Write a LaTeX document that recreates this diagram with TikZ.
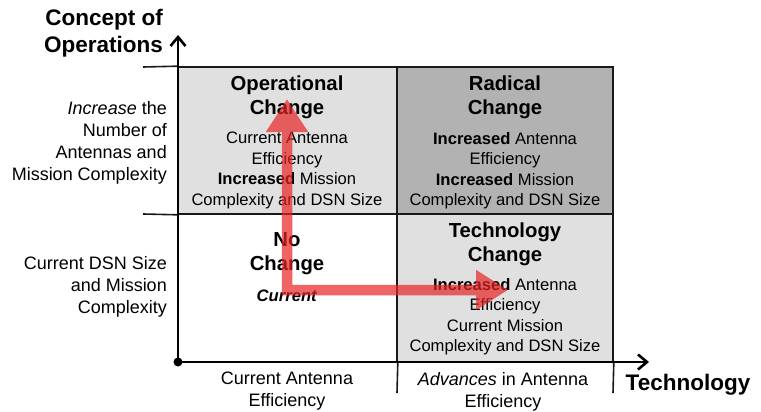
\documentclass[tikz,border=0pt]{standalone}
\usepackage{fontspec}
\setmainfont{Liberation Sans}
\usetikzlibrary{arrows.meta}
\definecolor{cellgray}{RGB}{224,224,224}
\definecolor{radgray}{RGB}{178,178,178}
\definecolor{moved}{RGB}{232,36,36}
\tikzstyle{cell}=[rectangle,draw=black!90,line width=1.6pt,inner sep=0pt]
\tikzstyle{title}=[font=\fontsize{20.3}{24}\selectfont\bfseries,align=center,inner sep=0pt]
\tikzstyle{body}=[font=\fontsize{16.6}{20.5}\selectfont,align=center,inner sep=0pt]
\tikzstyle{side}=[font=\fontsize{18}{22}\selectfont,inner sep=0pt]
\tikzstyle{axisname}=[font=\fontsize{22.5}{27}\selectfont\bfseries,inner sep=0pt]
\tikzstyle{axis}=[draw,line width=2.6pt,-{Straight Barb[length=9pt,width=15pt]}]
\tikzstyle{grid}=[draw=black!90,line width=1.6pt]
\tikzstyle{move}=[draw=moved,line width=10.5pt,line join=miter,{Triangle[width=40pt,length=33pt]}-{Triangle[width=38pt,length=32pt]}]

\begin{document}
\begin{tikzpicture}[x=1pt,y=-1pt]
        \useasboundingbox (0,0) rectangle (761,412);
        % the four cells
        \node[cell,fill=cellgray,minimum width=219pt,minimum height=147pt] (op) at (287.5,140.5) {};
        \node[cell,fill=radgray,minimum width=216pt,minimum height=147pt] (rad) at (505,140.5) {};
        \node[cell,minimum width=219pt,minimum height=148pt] (none) at (287.5,288) {};
        \node[cell,fill=cellgray,minimum width=216pt,minimum height=148pt] (tech) at (505,288) {};
        % cell texts
        \node[title] (opT) at (287,97.5) {Operational\\Change};
        \node[body] (opB) at (287,170.5) {Current Antenna\\Efficiency\\\textbf{Increased} Mission\\Complexity and DSN Size};
        \node[title] (radT) at (505,97.5) {Radical\\Change};
        \node[body] (radB) at (505,170.5) {\textbf{Increased} Antenna\\Efficiency\\\textbf{Increased} Mission\\Complexity and DSN Size};
        \node[title] (noneT) at (287,254) {No\\Change};
        \node[body] (noneB) at (287,296) {\textbf{\textit{Current}}};
        \node[title] (techT) at (505,244) {Technology\\Change};
        \node[body] (techB) at (505,316.5) {\textbf{Increased} Antenna\\Efficiency\\Current Mission\\Complexity and DSN Size};
        % side and bottom labels
        \node[side,align=right,anchor=east] (more) at (167,142.5) {\textit{Increase} the\\Number of\\Antennas and\\Mission Complexity};
        \node[side,align=right,anchor=east] (same) at (167,286.5) {Current DSN Size\\and Mission\\Complexity};
        \node[side,align=center] (cureff) at (287,391) {Current Antenna\\Efficiency};
        \node[side,align=center] (adveff) at (503,392) {\textit{Advances} in Antenna\\Efficiency};
        \node[axisname,align=right,anchor=east] (conops) at (163,33.5) {Concept of\\Operations};
        \node[axisname] (techno) at (688,385) {Technology};
        % grid ends
        \coordinate (l1) at (143,67);
        \coordinate (l2) at (143,214);
        \coordinate (t1) at (397,393);
        \coordinate (t2) at (613,393);
        \path[grid] (l1) -- (op.north west);
        \path[grid] (l2) -- (op.south west);
        \path[grid] (none.south east) -- (t1);
        \path[grid] (tech.south east) -- (t2);
        % axes
        \node[circle,fill,inner sep=0pt,minimum size=9pt] (o) at (178,362) {};
        \coordinate (ytip) at (178,35);
        \coordinate (xtip) at (649,362);
        \path[axis] (o.center) -- (ytip);
        \path[axis] (o.center) -- (xtip);
        % red path
        \coordinate (upTip) at (287,99);
        \coordinate (rightTip) at (508,290);
        \begin{scope}[transparency group,opacity=0.7]
        \path[move] (upTip) |- (rightTip);
        \end{scope}
    \end{tikzpicture}
\end{document}
